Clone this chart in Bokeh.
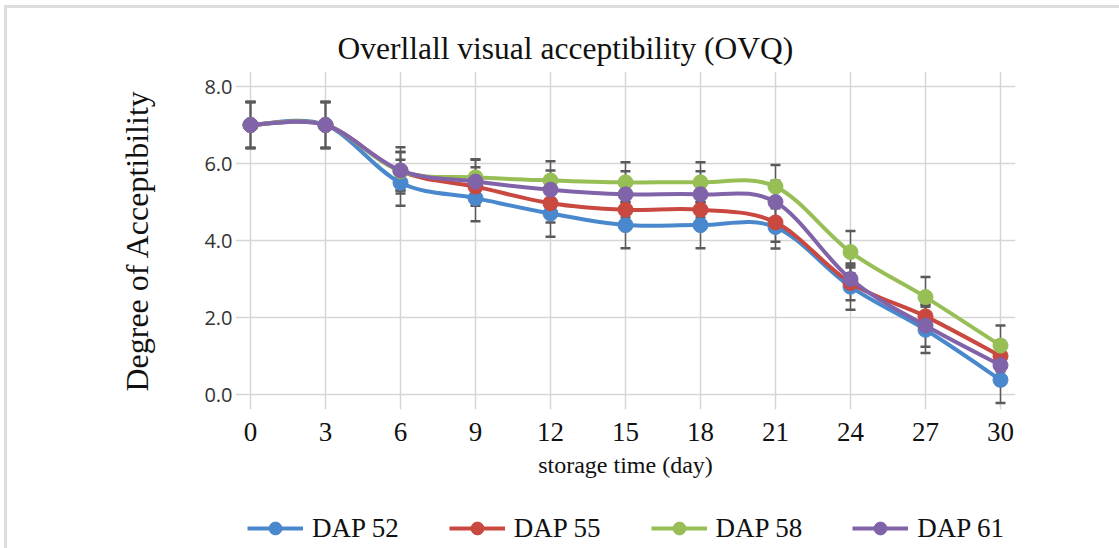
from bokeh.plotting import figure
from bokeh.layouts import column
from bokeh.models import (ColumnDataSource, Range1d, Whisker, TeeHead, Legend, LegendItem,
                          FixedTicker, NumeralTickFormatter)
from bokeh.embed import file_html
from bokeh.resources import INLINE

# ---------------- data ----------------
days = [0, 3, 6, 9, 12, 15, 18, 21, 24, 27, 30]
x_ticks = [0, 3, 6, 9, 12, 15, 18, 21, 24, 27, 30]
y_ticks = [0, 2, 4, 6, 8]
series_names = ["DAP 52", "DAP 55", "DAP 58", "DAP 61"]
dap52 = [7.0, 7.0, 5.5, 5.1, 4.7, 4.4, 4.4, 4.35, 2.8, 1.68, 0.38]
dap55 = [7.0, 7.0, 5.8, 5.4, 4.97, 4.8, 4.8, 4.47, 2.9, 2.03, 1.0]
dap58 = [7.0, 7.0, 5.8, 5.64, 5.56, 5.51, 5.51, 5.4, 3.7, 2.53, 1.27]
dap61 = [7.0, 7.0, 5.82, 5.53, 5.32, 5.2, 5.2, 5.0, 3.0, 1.79, 0.76]
err52 = [0.6, 0.6, 0.6, 0.6, 0.6, 0.6, 0.6, 0.56, 0.6, 0.6, 0.6]
err55 = [0.6, 0.6, 0.5, 0.5, 0.5, 0.5, 0.5, 0.5, 0.45, 0.3, 0.4]
err58 = [0.6, 0.6, 0.5, 0.47, 0.5, 0.52, 0.52, 0.56, 0.55, 0.52, 0.52]
err61 = [0.6, 0.6, 0.6, 0.57, 0.5, 0.6, 0.6, 0.55, 0.3, 0.55, 0.5]
colors = ["#4A88CD", "#C9483F", "#97BF55", "#8063A9"]

values = [dap52, dap55, dap58, dap61]
errors = [err52, err55, err58, err61]

# ---------------- layout (page pixels) ----------------
OX, OY = 7, 8                 # outer border offset
PX0, PX1 = 250, 1000          # page x of day 0 / day 30
PY0, PY1 = 394, 86            # page y of 0.0 / 8.0
PAD = 15
W = 1119 - OX
H1 = 480                      # main chart height
H2 = 548 - OY - H1            # legend strip height
xu = (x_ticks[-1] - x_ticks[0]) / (PX1 - PX0)
yu = (y_ticks[-1] - y_ticks[0]) / (PY0 - PY1)
fl, fr = PX0 - PAD - OX, PX1 + PAD - OX
ft, fb = PY1 - PAD - OY, PY0 + PAD - OY

p = figure(width=W, height=H1, output_backend="svg", toolbar_location=None,
           x_range=Range1d(x_ticks[0] - PAD * xu, x_ticks[-1] + PAD * xu),
           y_range=Range1d(y_ticks[0] - PAD * yu, y_ticks[-1] + PAD * yu),
           min_border_left=fl, min_border_right=W - fr,
           min_border_top=ft, min_border_bottom=H1 - fb)
p.outline_line_color = None
p.background_fill_color = "white"
p.border_fill_color = "white"

# title
p.title.text = "Overllall visual acceptibility (OVQ)"
p.title.text_font = "Liberation Serif"
p.title.text_font_size = "31.5px"
p.title.text_font_style = "normal"
p.title.text_color = "#111111"
p.title.align = "left"
p.title.offset = 337 - (PX0 - PAD)
p.title.standoff = 11

# axes
for ax in (p.xaxis[0], p.yaxis[0]):
    ax.axis_line_color = None
    ax.major_tick_line_color = None
    ax.minor_tick_line_color = None
    ax.major_tick_in = 0
    ax.major_tick_out = 0
    ax.axis_label_text_font_style = "normal"
    ax.axis_label_text_color = "#111111"

p.xaxis.ticker = FixedTicker(ticks=x_ticks)
p.xaxis.bounds = (x_ticks[0], x_ticks[-1])
p.xaxis.major_label_text_font = "Liberation Serif"
p.xaxis.major_label_text_font_size = "27px"
p.xaxis.major_label_text_color = "#111111"
p.xaxis.major_label_standoff = 13
p.xaxis.axis_label = "storage time (day)"
p.xaxis.axis_label_text_font = "Liberation Serif"
p.xaxis.axis_label_text_font_size = "24px"
p.xaxis.axis_label_standoff = 8

p.yaxis.ticker = FixedTicker(ticks=y_ticks)
p.yaxis.bounds = (y_ticks[0], y_ticks[-1])
p.yaxis.formatter = NumeralTickFormatter(format="0.0")
p.yaxis.major_label_text_font = "Open Sans"
p.yaxis.major_label_text_font_size = "20px"
p.yaxis.major_label_text_color = "#333333"
p.yaxis.major_label_standoff = 3
p.yaxis.axis_label = "Degree of Acceptibility"
p.yaxis.axis_label_text_font = "Liberation Serif"
p.yaxis.axis_label_text_font_size = "32px"
p.yaxis.axis_label_standoff = 46

p.xgrid.ticker = FixedTicker(ticks=x_ticks)
p.ygrid.ticker = FixedTicker(ticks=y_ticks)
for g in (p.xgrid[0], p.ygrid[0]):
    g.grid_line_color = "#D6D6D6"
    g.grid_line_width = 1.5

# error bars
for vals, errs in zip(values, errors):
    src = ColumnDataSource(dict(x=days,
                                up=[v + e for v, e in zip(vals, errs)],
                                lo=[v - e for v, e in zip(vals, errs)]))
    w = Whisker(source=src, base="x", upper="up", lower="lo",
                line_color="#5A5A5A", line_width=1.5,
                upper_head=TeeHead(size=10, line_color="#5A5A5A", line_width=2.5),
                lower_head=TeeHead(size=10, line_color="#5A5A5A", line_width=2.5))
    p.add_layout(w)


def smooth_segments(xs, ys):
    n = len(xs)
    seg = dict(x0=[], y0=[], x1=[], y1=[], cx0=[], cy0=[], cx1=[], cy1=[])
    for i in range(n - 1):
        i0 = max(i - 1, 0)
        i3 = min(i + 2, n - 1)
        seg["x0"].append(xs[i]); seg["y0"].append(ys[i])
        seg["x1"].append(xs[i + 1]); seg["y1"].append(ys[i + 1])
        seg["cx0"].append(xs[i] + (xs[i + 1] - xs[i0]) / 6)
        seg["cy0"].append(ys[i] + (ys[i + 1] - ys[i0]) / 6)
        seg["cx1"].append(xs[i + 1] - (xs[i3] - xs[i]) / 6)
        seg["cy1"].append(ys[i + 1] - (ys[i3] - ys[i]) / 6)
    return seg


def draw_series(fig, vals, col):
    bz = fig.bezier(source=ColumnDataSource(smooth_segments(days, vals)),
                    x0="x0", y0="y0", x1="x1", y1="y1",
                    cx0="cx0", cy0="cy0", cx1="cx1", cy1="cy1",
                    line_color=col, line_width=4)
    sc = fig.scatter(days, vals, size=15, fill_color=col, line_color=col)
    return bz, sc


for vals, col in zip(values, colors):
    draw_series(p, vals, col)

# ---------------- legend strip (its view range lies away from the data) ----------------
p2 = figure(width=W, height=H2, output_backend="svg", toolbar_location=None,
            x_axis_location=None, y_axis_location=None, title=None,
            x_range=Range1d(100, 101), y_range=Range1d(100, 101),
            min_border=0)
p2.outline_line_color = None
p2.xgrid.grid_line_color = None
p2.ygrid.grid_line_color = None
items = []
for name, vals, col in zip(series_names, values, colors):
    bz, sc = draw_series(p2, vals, col)
    items.append(LegendItem(label=name, renderers=[bz, sc]))

# the strip's frame lines up with the chart frame (column alignment)
legend = Legend(items=items, orientation="horizontal",
                location=(247 - (PX0 - PAD), 548 - 528 - 16),
                glyph_width=56, glyph_height=32, label_standoff=9, spacing=50,
                padding=0, margin=0, border_line_color=None, background_fill_alpha=0,
                label_text_font="Liberation Serif", label_text_font_size="27px",
                label_text_color="#111111")
p2.add_layout(legend, "center")

layout = column(p, p2, spacing=0)
layout.styles = {"border-left": "3px solid #DDDDDD", "border-top": "3px solid #DDDDDD",
                 "margin-left": "4px", "margin-top": "5px"}

open("out.html", "w").write(file_html(layout, INLINE))
